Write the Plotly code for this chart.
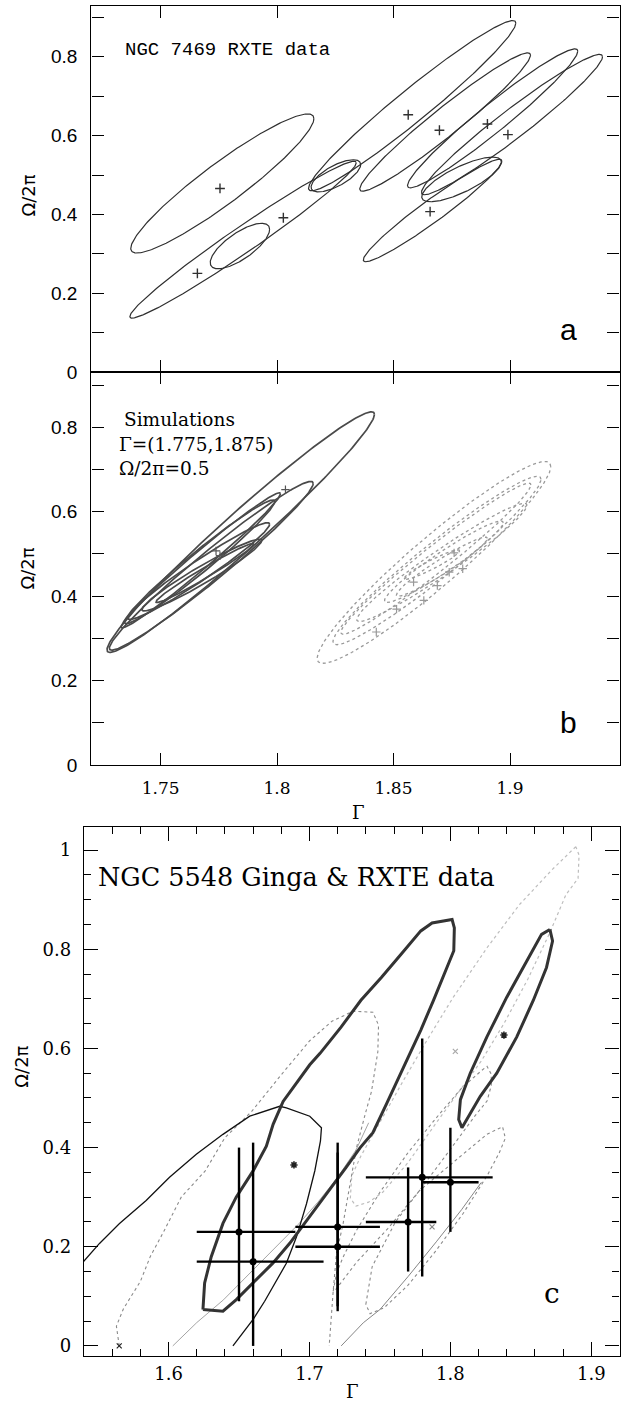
import numpy as np
import plotly.graph_objects as go

# ---------------- Panel a : NGC 7469 RXTE contours (ellipse extents + tilt phase)
a_xmin = [1.7372, 1.7368, 1.7713, 1.8135, 1.8146, 1.8355, 1.8560, 1.8620, 1.8370, 1.8621]
a_xmax = [1.8158, 1.8340, 1.7968, 1.9025, 1.8359, 1.9088, 1.9291, 1.9397, 1.8965, 1.8963]
a_ymin = [0.302, 0.137, 0.2622, 0.460, 0.4571, 0.459, 0.4675, 0.450, 0.280, 0.4322]
a_ymax = [0.655, 0.535, 0.3776, 0.892, 0.5387, 0.810, 0.820, 0.806, 0.540, 0.5456]
a_phi = [0.37, 0.20, 0.75, 0.245, 0.80, 0.26, 0.26, 0.26, 0.27, 0.68]
a_best_x = [1.7755, 1.7658, 1.8027, 1.8563, 1.8697, 1.8657, 1.8903, 1.8991]
a_best_y = [0.466, 0.2504, 0.3916, 0.653, 0.6136, 0.4071, 0.6295, 0.6025]

# ---------------- Panel b : simulations
bl_xmin = [1.727, 1.728, 1.733, 1.7345, 1.736, 1.742, 1.748]
bl_xmax = [1.8418, 1.8155, 1.8015, 1.799, 1.7968, 1.7934, 1.790]
bl_ymin = [0.2667, 0.272, 0.325, 0.335, 0.345, 0.365, 0.385]
bl_ymax = [0.8369, 0.672, 0.645, 0.628, 0.574, 0.535, 0.525]
bl_phi = [0.21, 0.22, 0.17, 0.22, 0.25, 0.28, 0.20]
bl_best_x = [1.7738, 1.7755, 1.8036]
bl_best_y = [0.5075, 0.496, 0.6525]

br_xmin = [1.8172, 1.824, 1.8274, 1.8342, 1.8461, 1.8512, 1.8546]
br_xmax = [1.9175, 1.9133, 1.909, 1.9073, 1.8971, 1.8903, 1.8784]
br_ymin = [0.2408, 0.285, 0.310, 0.340, 0.385, 0.400, 0.440]
br_ymax = [0.7192, 0.684, 0.668, 0.620, 0.578, 0.540, 0.510]
br_phi = [0.32, 0.27, 0.22, 0.26, 0.30, 0.30, 0.35]
br_best_x = [1.8760, 1.8797, 1.8739, 1.8586, 1.8630, 1.8513, 1.8426, 1.8688]
br_best_y = [0.5026, 0.4652, 0.4568, 0.4335, 0.3902, 0.3694, 0.3152, 0.4252]

# ---------------- Panel c : NGC 5548 Ginga & RXTE
# thick contours
c1_x = [1.6244, 1.6386, 1.6481, 1.660, 1.674, 1.686, 1.700, 1.712, 1.726, 1.736, 1.745, 1.755,
        1.767, 1.779, 1.788, 1.7965, 1.8024, 1.8028, 1.8012, 1.787, 1.779, 1.765, 1.751, 1.7365,
        1.7224, 1.7075, 1.7002, 1.6813, 1.6742, 1.6694, 1.660, 1.648, 1.6386, 1.6303, 1.6256, 1.6244]
c1_y = [0.0733, 0.070, 0.0933, 0.127, 0.167, 0.207, 0.260, 0.307, 0.360, 0.400, 0.430, 0.490,
        0.563, 0.637, 0.697, 0.757, 0.797, 0.843, 0.860, 0.853, 0.837, 0.790, 0.743, 0.697,
        0.643, 0.590, 0.567, 0.493, 0.447, 0.403, 0.353, 0.300, 0.247, 0.180, 0.127, 0.0733]
c2_x = [1.8706, 1.8725, 1.8682, 1.8588, 1.8471, 1.8329, 1.8212, 1.8118, 1.8082, 1.8059, 1.8071,
        1.8141, 1.8259, 1.840, 1.8541, 1.8647, 1.8706]
c2_y = [0.840, 0.8167, 0.7633, 0.6967, 0.6233, 0.550, 0.5033, 0.4567, 0.440, 0.4567, 0.4967,
        0.550, 0.6233, 0.7033, 0.7767, 0.830, 0.840]
# thin black open contour
t1_x = [1.5396, 1.551, 1.5652, 1.5841, 1.6007, 1.6197, 1.6386, 1.6576, 1.6789, 1.6836, 1.7002,
        1.7085, 1.7078, 1.7038, 1.6979, 1.6908, 1.6836, 1.6682, 1.660, 1.6457]
t1_y = [0.170, 0.2067, 0.2467, 0.2933, 0.340, 0.3867, 0.4267, 0.4633, 0.4833, 0.480, 0.4633,
        0.440, 0.4133, 0.3533, 0.2867, 0.220, 0.1667, 0.090, 0.0533, 0.0]
# thin grey dotted contour (Ginga)
c4_x = [1.565, 1.563, 1.568, 1.580, 1.587, 1.597, 1.609, 1.626, 1.640, 1.659, 1.680, 1.700,
        1.716, 1.731, 1.745, 1.749, 1.7485, 1.7440, 1.7395, 1.7334, 1.729, 1.7239, 1.7192,
        1.7168, 1.714]
c4_y = [0.0, 0.040, 0.075, 0.130, 0.180, 0.233, 0.300, 0.353, 0.420, 0.473, 0.547, 0.615,
        0.655, 0.675, 0.673, 0.647, 0.593, 0.513, 0.467, 0.400, 0.330, 0.247, 0.187, 0.110, 0.0]
# thin grey solid line
t2_x = [1.603, 1.620, 1.639, 1.660, 1.679, 1.692, 1.706, 1.720, 1.733, 1.742]
t2_y = [0.0, 0.047, 0.093, 0.153, 0.207, 0.245, 0.290, 0.340, 0.395, 0.450]
# light grey long contour
g1_x = [1.889, 1.872, 1.849, 1.826, 1.802, 1.7835, 1.767, 1.751, 1.7365, 1.730, 1.729, 1.733,
        1.742, 1.752, 1.770, 1.790, 1.808, 1.822, 1.838, 1.855, 1.870, 1.882, 1.8906, 1.8913, 1.889]
g1_y = [1.007, 0.960, 0.890, 0.803, 0.703, 0.617, 0.537, 0.457, 0.383, 0.343, 0.298, 0.282,
        0.290, 0.310, 0.370, 0.450, 0.520, 0.575, 0.650, 0.740, 0.830, 0.910, 0.943, 0.990, 1.007]
# grey dotted contours, RXTE
g2_x = [1.7168, 1.7192, 1.724, 1.7334, 1.750, 1.770, 1.790, 1.808, 1.822, 1.826, 1.829, 1.829,
        1.826, 1.8177, 1.798, 1.778, 1.7557, 1.7332, 1.719, 1.7168]
g2_y = [0.110, 0.1467, 0.180, 0.2333, 0.310, 0.390, 0.460, 0.520, 0.555, 0.564, 0.548, 0.525,
        0.494, 0.465, 0.389, 0.313, 0.237, 0.168, 0.115, 0.110]
g3_x = [1.740, 1.7445, 1.761, 1.778, 1.8036, 1.826, 1.837, 1.839, 1.8346, 1.826, 1.809, 1.7895,
        1.7698, 1.753, 1.743, 1.740]
g3_y = [0.084, 0.160, 0.250, 0.313, 0.374, 0.427, 0.442, 0.419, 0.389, 0.343, 0.267, 0.191,
        0.122, 0.077, 0.065, 0.084]
t3_x = [1.7225, 1.7382, 1.750, 1.770, 1.790, 1.808, 1.822]
t3_y = [0.0, 0.0467, 0.0733, 0.140, 0.210, 0.275, 0.330]

# error-bar points
c_pt_x = [1.65, 1.66, 1.72, 1.72, 1.77, 1.78, 1.80]
c_pt_y = [0.23, 0.17, 0.24, 0.20, 0.25, 0.34, 0.33]
c_x_lo = [1.62, 1.62, 1.69, 1.69, 1.74, 1.74, 1.78]
c_x_hi = [1.69, 1.71, 1.75, 1.75, 1.79, 1.83, 1.82]
c_y_lo = [0.09, 0.00, 0.07, 0.08, 0.15, 0.14, 0.23]
c_y_hi = [0.40, 0.41, 0.41, 0.39, 0.36, 0.62, 0.44]

c_star_x = [1.689, 1.838]
c_star_y = [0.365, 0.627]
c_xmark_x = [1.565, 1.8035, 1.787]
c_xmark_y = [0.0, 0.594, 0.240]
c_xmark_col = ['#222222', '#aaaaaa', '#888888']


def ellipse(xmin, xmax, ymin, ymax, phi, n=260):
    t = np.linspace(0, 2 * np.pi, n)
    cx, ax = (xmin + xmax) / 2, (xmax - xmin) / 2
    cy, by = (ymin + ymax) / 2, (ymax - ymin) / 2
    return cx + ax * np.cos(t), cy + by * np.cos(t - phi)


fig = go.Figure()


def line(x, y, xa, ya, color, width, dash='solid'):
    fig.add_trace(go.Scatter(x=x, y=y, mode='lines', xaxis=xa, yaxis=ya,
                             line=dict(color=color, width=width, dash=dash),
                             hoverinfo='skip', showlegend=False))


# panel a
for i in range(len(a_xmin)):
    ex, ey = ellipse(a_xmin[i], a_xmax[i], a_ymin[i], a_ymax[i], a_phi[i])
    line(ex, ey, 'x', 'y', '#303030', 1.2)
fig.add_trace(go.Scatter(x=a_best_x, y=a_best_y, mode='markers', xaxis='x', yaxis='y',
                         marker=dict(symbol='cross-thin', size=7, color='#303030',
                                     line=dict(color='#303030', width=1.4)),
                         showlegend=False))

# panel b
for i in range(len(br_xmin)):
    ex, ey = ellipse(br_xmin[i], br_xmax[i], br_ymin[i], br_ymax[i], br_phi[i])
    line(ex, ey, 'x2', 'y2', '#9a9a9a', 1.3, 'dot')
for i in range(len(bl_xmin)):
    ex, ey = ellipse(bl_xmin[i], bl_xmax[i], bl_ymin[i], bl_ymax[i], bl_phi[i])
    line(ex, ey, 'x2', 'y2', '#4a4a4a', 1.7)
fig.add_trace(go.Scatter(x=bl_best_x, y=bl_best_y, mode='markers', xaxis='x2', yaxis='y2',
                         marker=dict(symbol='cross-thin', size=6, color='#555555',
                                     line=dict(color='#555555', width=1.2)),
                         showlegend=False))
fig.add_trace(go.Scatter(x=br_best_x, y=br_best_y, mode='markers', xaxis='x2', yaxis='y2',
                         marker=dict(symbol='cross-thin', size=6, color='#999999',
                                     line=dict(color='#999999', width=1.2)),
                         showlegend=False))

# panel c
line(g1_x, g1_y, 'x3', 'y3', '#bdbdbd', 1.2, 'dot')
line(c4_x, c4_y, 'x3', 'y3', '#8a8a8a', 1.1, 'dot')
line(t2_x, t2_y, 'x3', 'y3', '#9a9a9a', 0.9)
line(g2_x, g2_y, 'x3', 'y3', '#8a8a8a', 1.1, 'dot')
line(g3_x, g3_y, 'x3', 'y3', '#8a8a8a', 1.1, 'dot')
line(t3_x, t3_y, 'x3', 'y3', '#777777', 0.9)
line(t1_x, t1_y, 'x3', 'y3', '#111111', 1.3)
line(c1_x, c1_y, 'x3', 'y3', '#333333', 3.0)
line(c2_x, c2_y, 'x3', 'y3', '#333333', 3.0)

px = np.array(c_pt_x); py = np.array(c_pt_y)
fig.add_trace(go.Scatter(
    x=c_pt_x, y=c_pt_y, mode='markers', xaxis='x3', yaxis='y3',
    marker=dict(symbol='circle', size=7, color='black'),
    error_x=dict(type='data', symmetric=False, array=list(np.array(c_x_hi) - px),
                 arrayminus=list(px - np.array(c_x_lo)), thickness=2.4, width=0, color='black'),
    error_y=dict(type='data', symmetric=False, array=list(np.array(c_y_hi) - py),
                 arrayminus=list(py - np.array(c_y_lo)), thickness=2.4, width=0, color='black'),
    showlegend=False))
fig.add_trace(go.Scatter(x=c_star_x, y=c_star_y, mode='markers', xaxis='x3', yaxis='y3',
                         marker=dict(symbol='asterisk-open', size=6, color='#222222',
                                     line=dict(color='#222222', width=1.6)),
                         showlegend=False))
fig.add_trace(go.Scatter(x=c_xmark_x, y=c_xmark_y, mode='markers', xaxis='x3', yaxis='y3',
                         marker=dict(symbol='x-thin-open', size=5, color=c_xmark_col,
                                     line=dict(color=c_xmark_col, width=1.2)),
                         showlegend=False))

W, H = 622, 1416
ab_x = [91.4 / W, 619.5 / W]
c_x = [84 / W, 619.5 / W]


def ydom(top, bot):
    return [1 - bot / H, 1 - top / H]


sans = 'Liberation Sans'
serif = 'DejaVu Serif'
common = dict(showline=True, linecolor='black', linewidth=1.3, mirror='ticks', ticks='inside',
              tickcolor='black', tickwidth=1.3, showgrid=False, zeroline=False)

ab_ticks_y = [round(0.1 * k, 1) for k in range(10)]
ab_text_y = ['0', '', '0.2', '', '0.4', '', '0.6', '', '0.8', '']

fig.update_layout(
    width=W, height=H, margin=dict(l=0, r=0, t=0, b=0),
    paper_bgcolor='white', plot_bgcolor='white', showlegend=False,
    xaxis=dict(domain=ab_x, anchor='y', range=[1.7203, 1.947], tickvals=[1.75, 1.8, 1.85, 1.9],
               showticklabels=False, ticklen=12, **common),
    yaxis=dict(domain=ydom(6, 375), anchor='x', range=[0, 0.929], tickvals=ab_ticks_y,
               ticktext=ab_text_y, ticklen=12, tickfont=dict(family=sans, size=19, color='black'),
               ticklabelstandoff=9, **common),
    xaxis2=dict(domain=ab_x, anchor='y2', range=[1.7203, 1.947], tickvals=[1.75, 1.8, 1.85, 1.9],
                ticktext=['1.75', '1.8', '1.85', '1.9'], ticklen=12,
                tickfont=dict(family=serif, size=17, color='black'), ticklabelstandoff=7, **common),
    yaxis2=dict(domain=ydom(375, 771), anchor='x2', range=[0, 0.931], tickvals=ab_ticks_y,
                ticktext=ab_text_y, ticklen=12, tickfont=dict(family=sans, size=19, color='black'),
                ticklabelstandoff=9, **common),
    xaxis3=dict(domain=c_x, anchor='y3', range=[1.54, 1.92], tick0=1.5, dtick=0.1, ticklen=14,
                minor=dict(dtick=0.02, ticklen=7, tickcolor='black', tickwidth=1.2, ticks='inside'),
                tickfont=dict(family=serif, size=18, color='black'), ticklabelstandoff=1, **common),
    yaxis3=dict(domain=ydom(833, 1366.7), anchor='x3', range=[-0.0205, 1.0475], tick0=0, dtick=0.2,
                ticklen=14,
                minor=dict(dtick=0.05, ticklen=7, tickcolor='black', tickwidth=1.2, ticks='inside'),
                tickfont=dict(family=serif, size=18, color='black'), ticklabelstandoff=8, **common),
)

ann = []


def txt(x, y, s, xref, yref, font, size, xanchor='left', yanchor='middle', angle=0, xshift=0):
    ann.append(dict(x=x, y=y, xref=xref, yref=yref, text=s, showarrow=False, xanchor=xanchor,
                    yanchor=yanchor, textangle=angle, xshift=xshift,
                    font=dict(family=font, size=size, color='black')))


txt(1.735, 0.817, 'NGC 7469 RXTE data', 'x', 'y', 'Liberation Mono', 19, xshift=-3)
txt(1.735, 0.818, 'Simulations', 'x2', 'y2', serif, 18.5, xshift=-4)
txt(1.733, 0.759, 'Γ=(1.775,1.875)', 'x2', 'y2', serif, 18.5, xshift=-4)
txt(1.733, 0.703, 'Ω/2π=0.5', 'x2', 'y2', serif, 18.5, xshift=-4)
txt(1.5507, 0.946, 'NGC 5548 Ginga &amp; RXTE data', 'x3', 'y3', serif, 25.5, xshift=-3)
txt(1.925, 0.107, 'a', 'x', 'y', sans, 30, 'center')
txt(1.925, 0.100, 'b', 'x2', 'y2', sans, 30, 'center')
txt(1.872, 0.105, 'c', 'x3', 'y3', serif, 28, 'center')
# axis titles (paper coords)
txt(28 / W, 1 - 197 / H, 'Ω/2π', 'paper', 'paper', 'DejaVu Sans', 18, 'center', 'middle', -90)
txt(28 / W, 1 - 573 / H, 'Ω/2π', 'paper', 'paper', 'DejaVu Sans', 18, 'center', 'middle', -90)
txt(22 / W, 1 - 1075 / H, 'Ω/2π', 'paper', 'paper', 'DejaVu Sans', 18, 'center', 'middle', -90)
txt(358 / W, 1 - 819 / H, 'Γ', 'paper', 'paper', serif, 18, 'center')
txt(352 / W, 1 - 1402.5 / H, 'Γ', 'paper', 'paper', serif, 18, 'center')
fig.update_layout(annotations=ann)

fig.write_html('out.html')
